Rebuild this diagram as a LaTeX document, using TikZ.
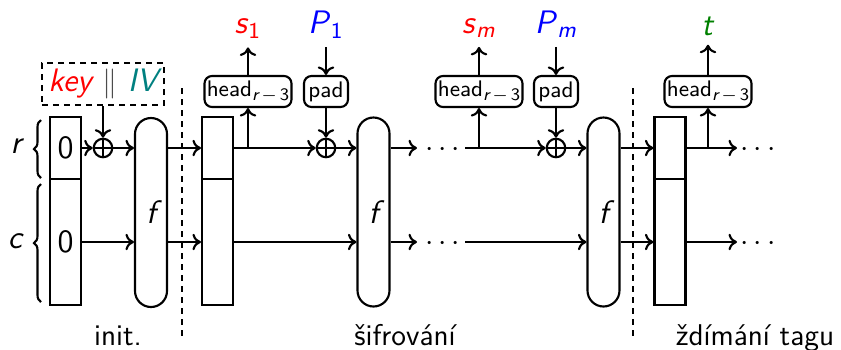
\documentclass[tikz,border=0pt]{standalone}
\usetikzlibrary{decorations.pathreplacing,calc,arrows.meta}
\newcommand{\lsub}[2]{\textit{#1}\textsubscript{#2}}
\newcommand{\headop}{head\raisebox{-0.45ex}{\fontsize{7}{8}\selectfont\itshape r\upshape\,$-$\,3}}
\begin{document}
\begin{tikzpicture}[x=0.4pt,y=-0.4pt, line width=0.85pt,
  >={To[length=3.4pt,width=6.6pt]},
  font=\sffamily\fontsize{12}{14}\selectfont,
  statebox/.style={draw, minimum width=12.4pt, inner sep=0pt, font=\sffamily\fontsize{13}{15}\selectfont},
  fblock/.style={draw, rounded corners=6.4pt, minimum width=12.8pt, minimum height=75.6pt, inner sep=0pt, font=\sffamily\itshape\fontsize{13}{15}\selectfont},
  opbox/.style={draw, rounded corners=3pt, minimum height=12.4pt, inner sep=0.8pt, font=\sffamily\fontsize{9}{10}\selectfont},
  headbox/.style={opbox, minimum width=34.8pt},
  padbox/.style={opbox, minimum width=17.6pt},
  xorop/.style={circle, draw, minimum size=7.4pt, inner sep=0pt,
    path picture={\draw (path picture bounding box.north) -- (path picture bounding box.south)
      (path picture bounding box.east) -- (path picture bounding box.west);}},
  sepline/.style={dash pattern=on 2.4pt off 2pt},
  lab/.style={font=\sffamily\fontsize{13}{15}\selectfont, anchor=base},
  dotsnode/.style={font=\fontsize{13}{15}\selectfont, anchor=base, inner sep=0pt},
  phase/.style={font=\sffamily\fontsize{12}{14}\selectfont, anchor=base},
  bracestyle/.style={decorate, decoration={brace, amplitude=2.8pt}},
]
\useasboundingbox (0,0) rectangle (841,349);

% ---------- init ----------
\node[draw, sepline, minimum width=48.8pt, minimum height=16.8pt, inner sep=0pt,
  font=\sffamily\itshape\fontsize{13}{15}\selectfont] (key) at (103,84)
  {\textcolor{red}{key} \textcolor{black!70}{$\|$} \textcolor{teal}{IV}};
\node[statebox, minimum height=24.8pt] (s0r) at (65.5,148) {0};
\node[statebox, minimum height=50.4pt] (s0c) at (65.5,242) {0};
\node[xorop] (x0) at (103,148) {};
\node[fblock] (f0) at (151,212.5) {f};
\draw[bracestyle] (41,178) -- (41,120);
\draw[bracestyle] (41,302) -- (41,184);
\node[font=\sffamily\itshape\fontsize{13}{15}\selectfont] (rl) at (16,146) {r};
\node[font=\sffamily\itshape\fontsize{13}{15}\selectfont] (cl) at (15,241) {c};
\draw[->] (key) -- (x0);
\draw[->] (s0r) -- (x0);
\draw[->] (x0) -- (f0.west |- x0);
\draw[->] (s0c) -- (f0.west |- s0c);

\coordinate (d1t) at (182,88);
\coordinate (d1b) at (182,340);
\draw[sepline] (d1t) -- (d1b);

% ---------- block 1 ----------
\node[statebox, minimum height=24.8pt] (s1r) at (217.5,148) {};
\node[statebox, minimum height=50.4pt] (s1c) at (217.5,242) {};
\draw[->] (f0.east |- s1r) -- (s1r);
\draw[->] (f0.east |- s1c) -- (s1c);
\coordinate (b1) at (248,148);
\node[headbox] (h1) at (248,91.5) {\headop};
\node[lab, text=red] (o1) at (248,33) {\lsub{s}{1}};
\node[padbox] (p1) at (326,91.5) {pad};
\node[lab, text=blue] (P1) at (326,33) {\lsub{P}{1}};
\node[xorop] (x1) at (326,148) {};
\node[fblock] (f1) at (373.5,212) {f};
\draw (s1r) -- (b1);
\draw[->] (b1) -- (h1);
\draw[->] (h1) -- (o1);
\draw[->] (P1) -- (p1);
\draw[->] (p1) -- (x1);
\draw[->] (b1) -- (x1);
\draw[->] (x1) -- (f1.west |- x1);
\draw[->] (s1c) -- (f1.west |- s1c);

% ---------- dots ----------
\coordinate (e1r) at (417,148);
\coordinate (g1r) at (465,148);
\coordinate (e1c) at (417,242);
\coordinate (g1c) at (465,242);
\node[dotsnode] (dd1) at (442.5,156) {$\cdots$};
\node[dotsnode] (dd2) at (442.5,250) {$\cdots$};
\draw[->] (f1.east |- e1r) -- (e1r);
\draw[->] (f1.east |- e1c) -- (e1c);

% ---------- block m ----------
\coordinate (b2) at (479,148);
\node[headbox] (h2) at (479,91.5) {\headop};
\node[lab, text=red] (o2) at (479,33) {\lsub{s}{\itshape m}};
\node[padbox] (p2) at (556,91.5) {pad};
\node[lab, text=blue] (P2) at (556,33) {\lsub{P}{\itshape m}};
\node[xorop] (x2) at (556,148) {};
\node[fblock] (f2) at (603.5,212) {f};
\draw (g1r) -- (b2);
\draw[->] (b2) -- (h2);
\draw[->] (h2) -- (o2);
\draw[->] (P2) -- (p2);
\draw[->] (p2) -- (x2);
\draw[->] (b2) -- (x2);
\draw[->] (x2) -- (f2.west |- x2);
\draw[->] (g1c) -- (f2.west |- g1c);

\coordinate (d2t) at (633,88);
\coordinate (d2b) at (633,340);
\draw[sepline] (d2t) -- (d2b);

% ---------- squeeze ----------
\node[statebox, minimum height=24.8pt] (s3r) at (670,148) {};
\node[statebox, minimum height=50.4pt] (s3c) at (670,242) {};
\draw[->] (f2.east |- s3r) -- (s3r);
\draw[->] (f2.east |- s3c) -- (s3c);
\coordinate (b3) at (708,148);
\node[headbox] (h3) at (708,91.5) {\headop};
\node[lab, text=green!50!black] (tt) at (708,35) {\textit{t}};
\coordinate (e3r) at (737,148);
\coordinate (e3c) at (737,242);
\draw (s3r) -- (b3);
\draw[->] (b3) -- (h3);
\draw[->] (h3) -- (tt);
\draw[->] (b3) -- (e3r);
\draw[->] (s3c) -- (e3c);
\node[dotsnode] (dd3) at (758,156) {$\cdots$};
\node[dotsnode] (dd4) at (758,250) {$\cdots$};

% ---------- phase labels ----------
\node[phase] (ph1) at (118,345) {init.};
\node[phase] (ph2) at (405,345) {šifrování};
\node[phase] (ph3) at (755,345) {ždímání tagu};
\end{tikzpicture}
\end{document}
